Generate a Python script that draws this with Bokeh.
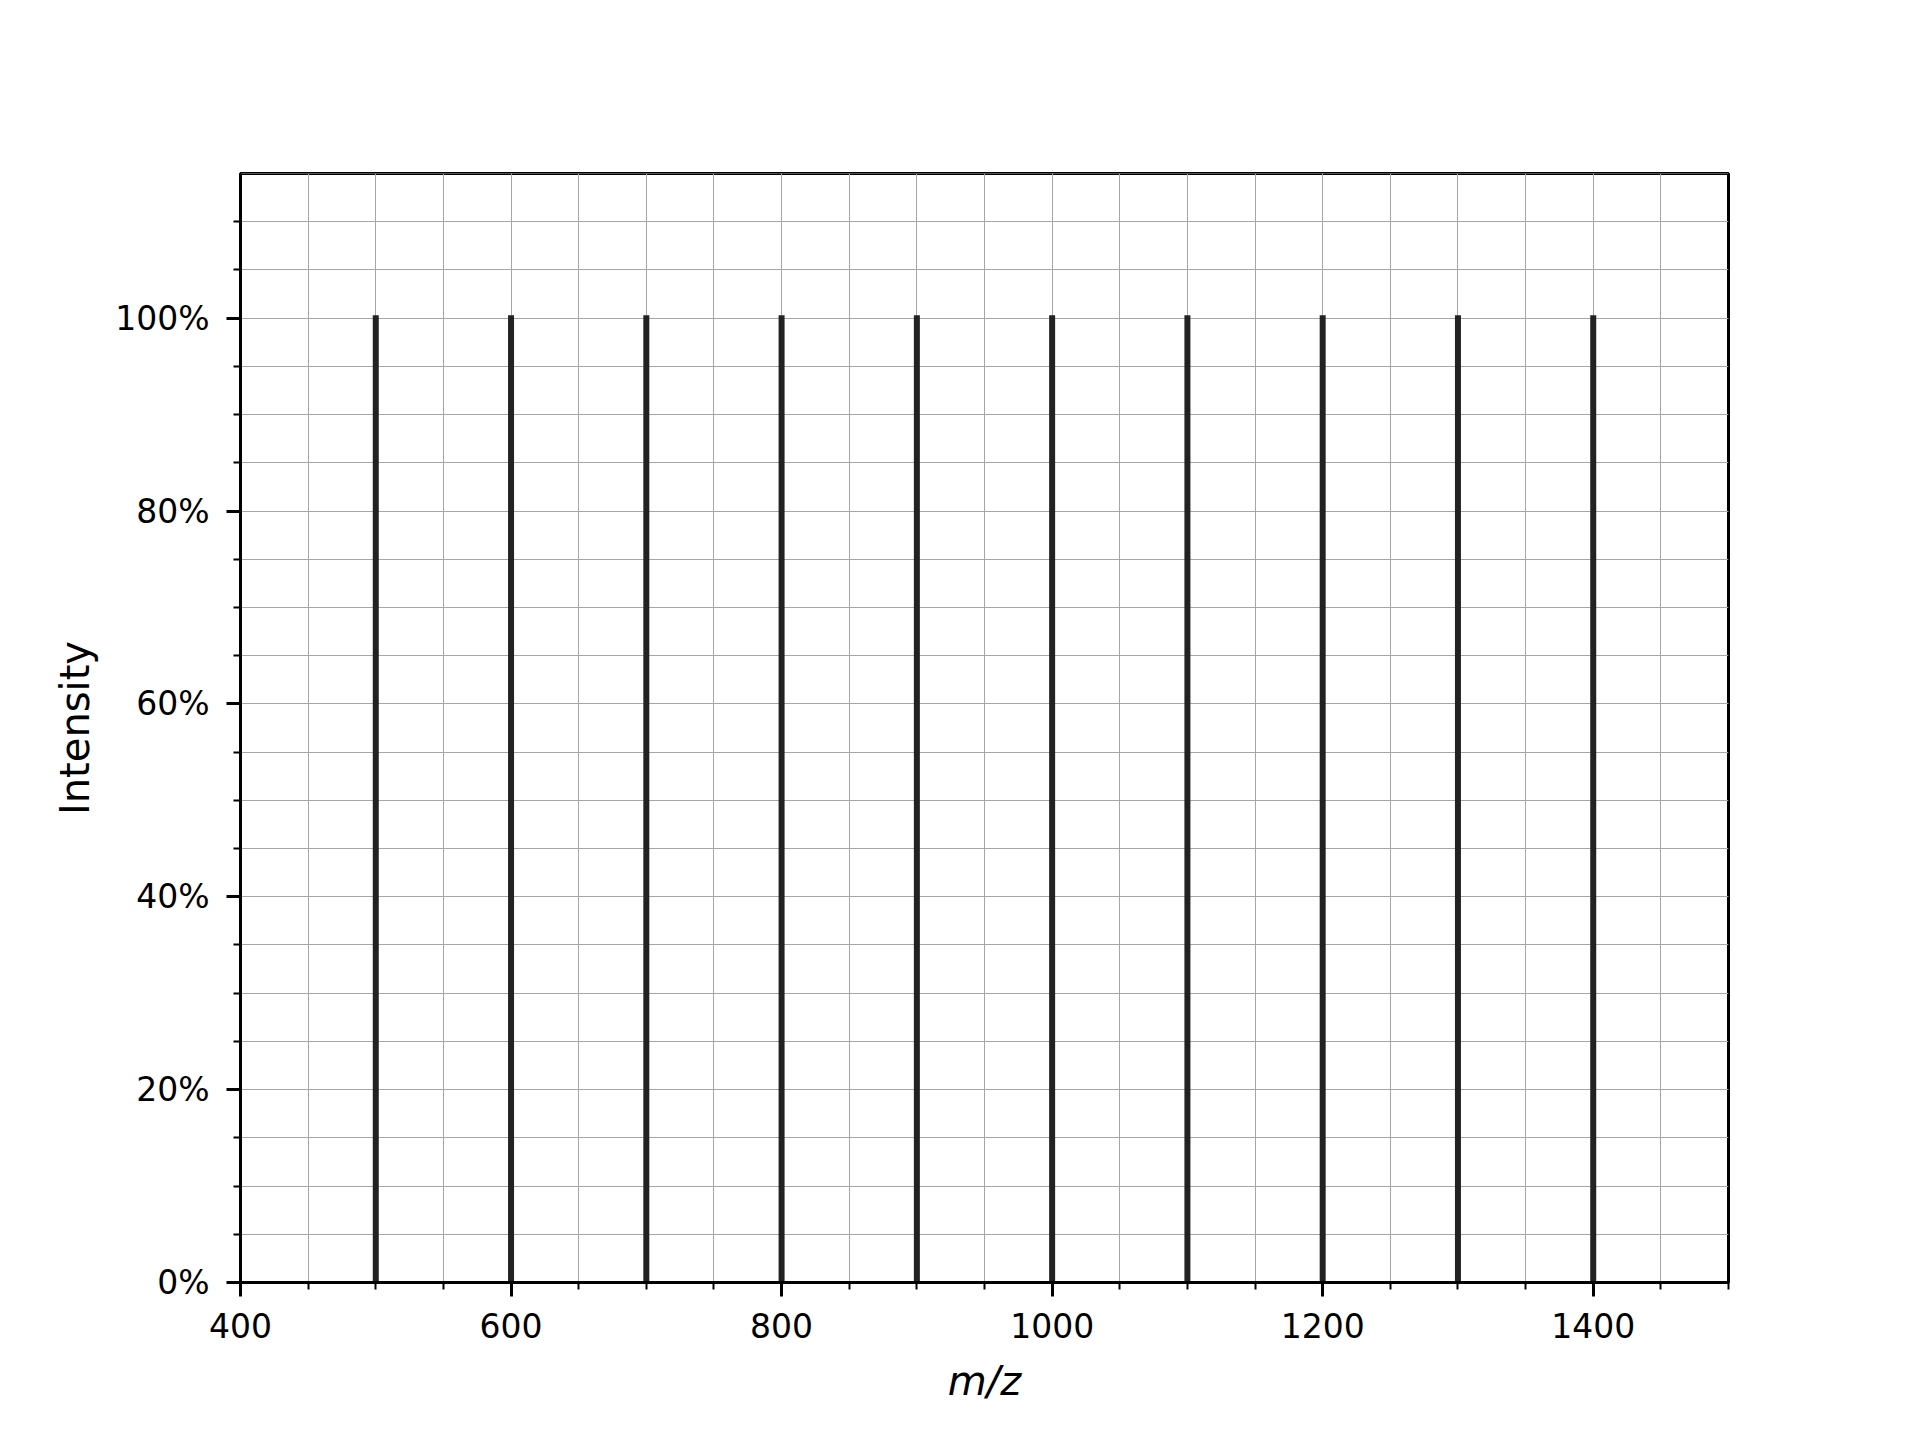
from bokeh.plotting import figure
from bokeh.models import FixedTicker, NumeralTickFormatter, Range1d
from bokeh.embed import file_html
from bokeh.resources import INLINE

# Data
mz = [500, 600, 700, 800, 900, 1000, 1100, 1200, 1300, 1400]
intensity = [1.0, 1.0, 1.0, 1.0, 1.0, 1.0, 1.0, 1.0, 1.0, 1.0]
x_major = [400, 600, 800, 1000, 1200, 1400]
x_minor = list(range(400, 1501, 50))
y_major = [0.0, 0.2, 0.4, 0.6, 0.8, 1.0]
y_minor = [i * 0.05 for i in range(0, 24)]

p = figure(
    frame_width=1488, frame_height=1109,
    min_border_left=240, min_border_right=184,
    min_border_top=173, min_border_bottom=150,
    x_range=Range1d(400, 1500), y_range=Range1d(0, 1.15),
    output_backend="svg", toolbar_location=None,
    background_fill_color="white", border_fill_color="white",
)

p.segment(x0=mz, y0=[0] * len(mz), x1=mz, y1=intensity,
          line_color="#222222", line_width=6, line_cap="square")

FONT = "DejaVu Sans"

p.xaxis.ticker = FixedTicker(ticks=x_major, minor_ticks=x_minor)
p.yaxis.ticker = FixedTicker(ticks=y_major, minor_ticks=y_minor)
p.yaxis.formatter = NumeralTickFormatter(format="0%")

for ax in (p.xaxis, p.yaxis):
    ax.axis_line_color = "black"
    ax.axis_line_width = 3
    ax.major_tick_line_color = "black"
    ax.major_tick_line_width = 3
    ax.major_tick_out = 14
    ax.major_tick_in = 0
    ax.minor_tick_line_color = "black"
    ax.minor_tick_line_width = 2
    ax.minor_tick_out = 7
    ax.minor_tick_in = 0
    ax.major_label_text_font = FONT
    ax.major_label_text_font_size = "33px"
    ax.major_label_text_color = "black"
    ax.axis_label_text_font = FONT
    ax.axis_label_text_font_size = "40px"
    ax.axis_label_text_color = "black"

p.xaxis.axis_label = "m/z"
p.xaxis.axis_label_text_font_style = "italic"
p.xaxis.major_label_standoff = 16
p.xaxis.axis_label_standoff = 17

p.yaxis.axis_label = "Intensity"
p.yaxis.axis_label_text_font_style = "normal"
p.yaxis.major_label_standoff = 17
p.yaxis.axis_label_standoff = 14

for g in (p.xgrid, p.ygrid):
    g.grid_line_color = "#a6a6a6"
    g.grid_line_width = 1
    g.minor_grid_line_color = "#a6a6a6"
    g.minor_grid_line_width = 1

p.outline_line_color = "black"
p.outline_line_width = 3
p.outline_line_alpha = 1.0

open("out.html", "w").write(file_html(p, INLINE))
